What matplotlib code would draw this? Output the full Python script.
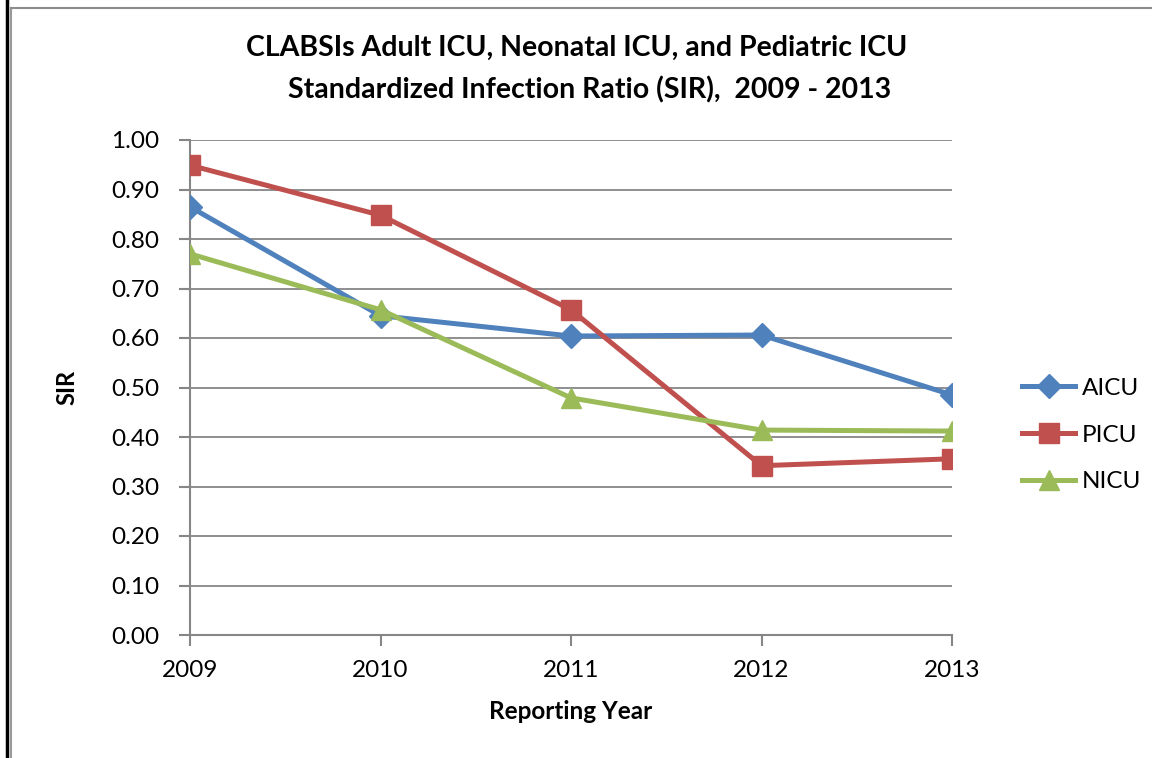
import numpy as np
import matplotlib.pyplot as plt
from matplotlib.lines import Line2D

plt.rcParams['font.family'] = ['Lato', 'DejaVu Sans']

years = [2009, 2010, 2011, 2012, 2013]
aicu = [0.865, 0.645, 0.604, 0.606, 0.485]
picu = [0.949, 0.848, 0.657, 0.342, 0.356]
nicu = [0.770, 0.657, 0.479, 0.414, 0.412]
yticks = [0.0, 0.1, 0.2, 0.3, 0.4, 0.5, 0.6, 0.7, 0.8, 0.9, 1.0]

blue = '#4F81BD'
red = '#C0504D'
green = '#9BBB59'
grid = '#868686'

fig = plt.figure(figsize=(11.52, 7.58), dpi=100)
ax = fig.add_axes([190/1152, 1 - 635/758, (952-190)/1152, (635-140)/758])

ax.plot(years, aicu, color=blue, lw=3.6, marker='D', ms=12, label='AICU', zorder=3)
ax.plot(years, picu, color=red, lw=3.6, marker='s', ms=14, label='PICU', zorder=3)
ax.plot(years, nicu, color=green, lw=3.6, marker='^', ms=15, label='NICU', zorder=3)

ax.set_xlim(2009, 2013)
ax.set_ylim(0, 1.0)
ax.set_yticks(yticks)
ax.set_yticklabels(['%.2f' % v for v in yticks])
ax.set_xticks(years)
ax.set_xticklabels([str(y) for y in years])
ax.yaxis.grid(True, color=grid, lw=1.3)
ax.set_axisbelow(True)
for s in ['top', 'right']:
    ax.spines[s].set_visible(False)
for s in ['left', 'bottom']:
    ax.spines[s].set_color(grid)
    ax.spines[s].set_linewidth(1.5)
ax.tick_params(axis='both', colors=grid, width=1.5, length=8, labelsize=17.5,
               labelcolor='black')
ax.tick_params(axis='y', pad=14)
ax.tick_params(axis='x', pad=10)

ax.set_ylabel('SIR', fontsize=17, weight='bold', labelpad=24)
ax.set_xlabel('Reporting Year', fontsize=17.5, weight='bold', labelpad=14)

fig.text(577/1152, 1 - 48/758, 'CLABSIs Adult ICU, Neonatal ICU, and Pediatric ICU',
         ha='center', va='center', fontsize=20.5, weight='bold')
fig.text(590/1152, 1 - 90/758, 'Standardized Infection Ratio (SIR),  2009 - 2013',
         ha='center', va='center', fontsize=20.5, weight='bold')

leg = ax.legend(loc='center left', bbox_to_anchor=(1000/1152, 1 - 435/758),
                bbox_transform=fig.transFigure, frameon=False,
                fontsize=17.5, handlelength=2.2, labelspacing=1.05, handletextpad=0.25)

# outer chart border
fig.add_artist(Line2D([7/1152, 7/1152], [0, 1], color='black', lw=2.5))
fig.add_artist(Line2D([11/1152, 11/1152], [0, 1 - 8/758], color='#999999', lw=1.5))
fig.add_artist(Line2D([11/1152, 1], [1 - 8/758, 1 - 8/758], color='#8c8c8c', lw=1.5))

fig.savefig('out.png', dpi=100)
